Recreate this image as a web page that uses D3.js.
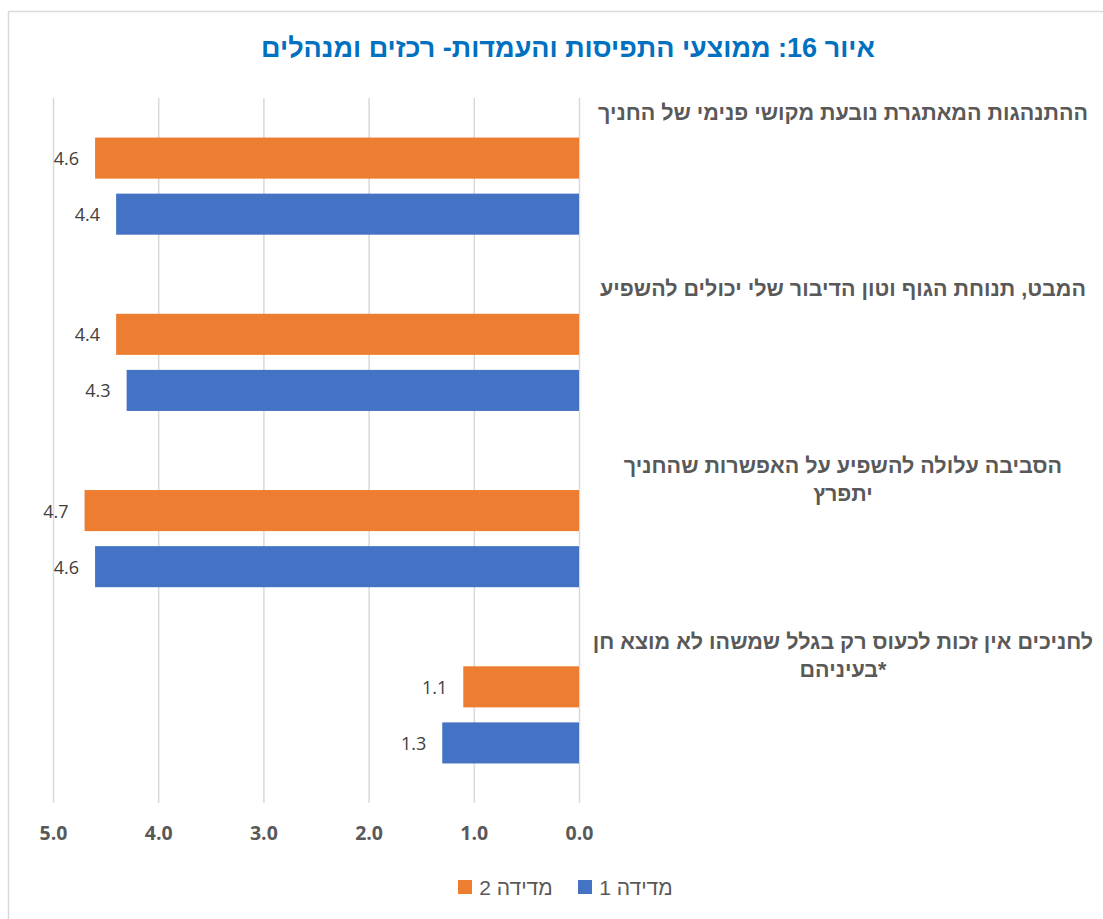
<!DOCTYPE html>
<html>
<head>
<meta charset="utf-8">
<script src="https://cdn.jsdelivr.net/npm/d3@7"></script>
<style>
  html, body { margin: 0; padding: 0; background: #ffffff; }
  svg { display: block; }
</style>
</head>
<body>
<svg id="chart" width="1103" height="919"></svg>
<script>
// ---- Data ----
const titleText = "איור 16: ממוצעי התפיסות והעמדות- רכזים ומנהלים";
const categories = [
  "ההתנהגות המאתגרת נובעת מקושי פנימי של החניך",
  "המבט, תנוחת הגוף וטון הדיבור שלי יכולים להשפיע",
  "הסביבה עלולה להשפיע על האפשרות שהחניך\nיתפרץ",
  "לחניכים אין זכות לכעוס רק בגלל שמשהו לא מוצא חן\nבעיניהם*"
];
const seriesNames = ["מדידה 2", "מדידה 1"];
const seriesColors = ["#ED7D31", "#4472C4"];
const measure2 = [4.6, 4.4, 4.7, 1.1];
const measure1 = [4.4, 4.3, 4.6, 1.3];
const tickValues = [0, 1, 2, 3, 4, 5];

// ---- Layout ----
const svg = d3.select("#chart");
const plotTop = 98, plotBottom = 803;
const hebFont = "'Liberation Sans', Arial, sans-serif";
const numFont = "'Open Sans', 'Liberation Sans', sans-serif";

// chart border (extends past right/bottom of window)
svg.append("rect")
  .attr("x", 8.5).attr("y", 11.5)
  .attr("width", 1130).attr("height", 940)
  .attr("fill", "#fff")
  .attr("stroke", "#d9d9d9").attr("stroke-width", 1.5);

const x = d3.scaleLinear().domain([0, 5]).range([579, 53]);
const y = d3.scaleBand().domain(d3.range(categories.length)).range([plotTop, plotBottom]);
const ySeries = d3.scaleBand().domain([0, 1]).range([0, y.bandwidth()])
  .paddingInner(0.268).paddingOuter(0.705);

// gridlines + tick labels through axis
const axis = d3.axisBottom(x)
  .tickValues(tickValues)
  .tickSize(-(plotBottom - plotTop))
  .tickPadding(23)
  .tickFormat(d3.format(".1f"));
const gAxis = svg.append("g").attr("transform", `translate(0,${plotBottom})`).call(axis);
gAxis.select(".domain").remove();
gAxis.selectAll(".tick line").attr("stroke", "#d9d9d9").attr("stroke-width", 1.5);
gAxis.selectAll(".tick text")
  .attr("fill", "#595959")
  .style("font-family", numFont)
  .style("font-size", "19.5px")
  .style("font-weight", "bold");

// title
svg.append("text")
  .attr("x", 568).attr("y", 48)
  .attr("text-anchor", "middle")
  .attr("dominant-baseline", "central")
  .attr("fill", "#0070C0")
  .style("font-family", hebFont)
  .style("font-size", "27px")
  .style("font-weight", "bold")
  .text(titleText);

// bars
const seriesData = [measure2, measure1];
const gBars = svg.append("g");
seriesData.forEach((vals, si) => {
  vals.forEach((v, ci) => {
    const yy = y(ci) + ySeries(si);
    gBars.append("rect")
      .attr("x", x(v))
      .attr("y", yy)
      .attr("width", x(0) - x(v))
      .attr("height", ySeries.bandwidth())
      .attr("fill", seriesColors[si]);
    gBars.append("text")
      .attr("x", x(v) - 16)
      .attr("y", yy + ySeries.bandwidth() / 2)
      .attr("text-anchor", "end")
      .attr("dominant-baseline", "central")
      .attr("fill", "#404040")
      .style("font-family", numFont)
      .style("font-size", "18px")
      .text(d3.format(".1f")(v));
  });
});

// category labels
const gLabels = svg.append("g");
categories.forEach((c, ci) => {
  const lines = c.split("\n");
  lines.forEach((ln, li) => {
    gLabels.append("text")
      .attr("x", 843)
      .attr("y", y(ci) + 15 + li * 28)
      .attr("text-anchor", "middle")
      .attr("dominant-baseline", "central")
      .attr("fill", "#595959")
      .style("font-family", hebFont)
      .style("font-size", "21.5px")
      .style("font-weight", "bold")
      .text(ln);
  });
});

// legend
const legendItems = [
  { name: seriesNames[0], color: seriesColors[0], sq: 458, tx: 516 },
  { name: seriesNames[1], color: seriesColors[1], sq: 578, tx: 636 }
];
const gLeg = svg.append("g");
legendItems.forEach(it => {
  gLeg.append("rect")
    .attr("x", it.sq).attr("y", 880)
    .attr("width", 14).attr("height", 14)
    .attr("fill", it.color);
  gLeg.append("text")
    .attr("x", it.tx).attr("y", 887)
    .attr("text-anchor", "middle")
    .attr("dominant-baseline", "central")
    .attr("fill", "#595959")
    .style("font-family", hebFont)
    .style("font-size", "21px")
    .text(it.name);
});
</script>
</body>
</html>
